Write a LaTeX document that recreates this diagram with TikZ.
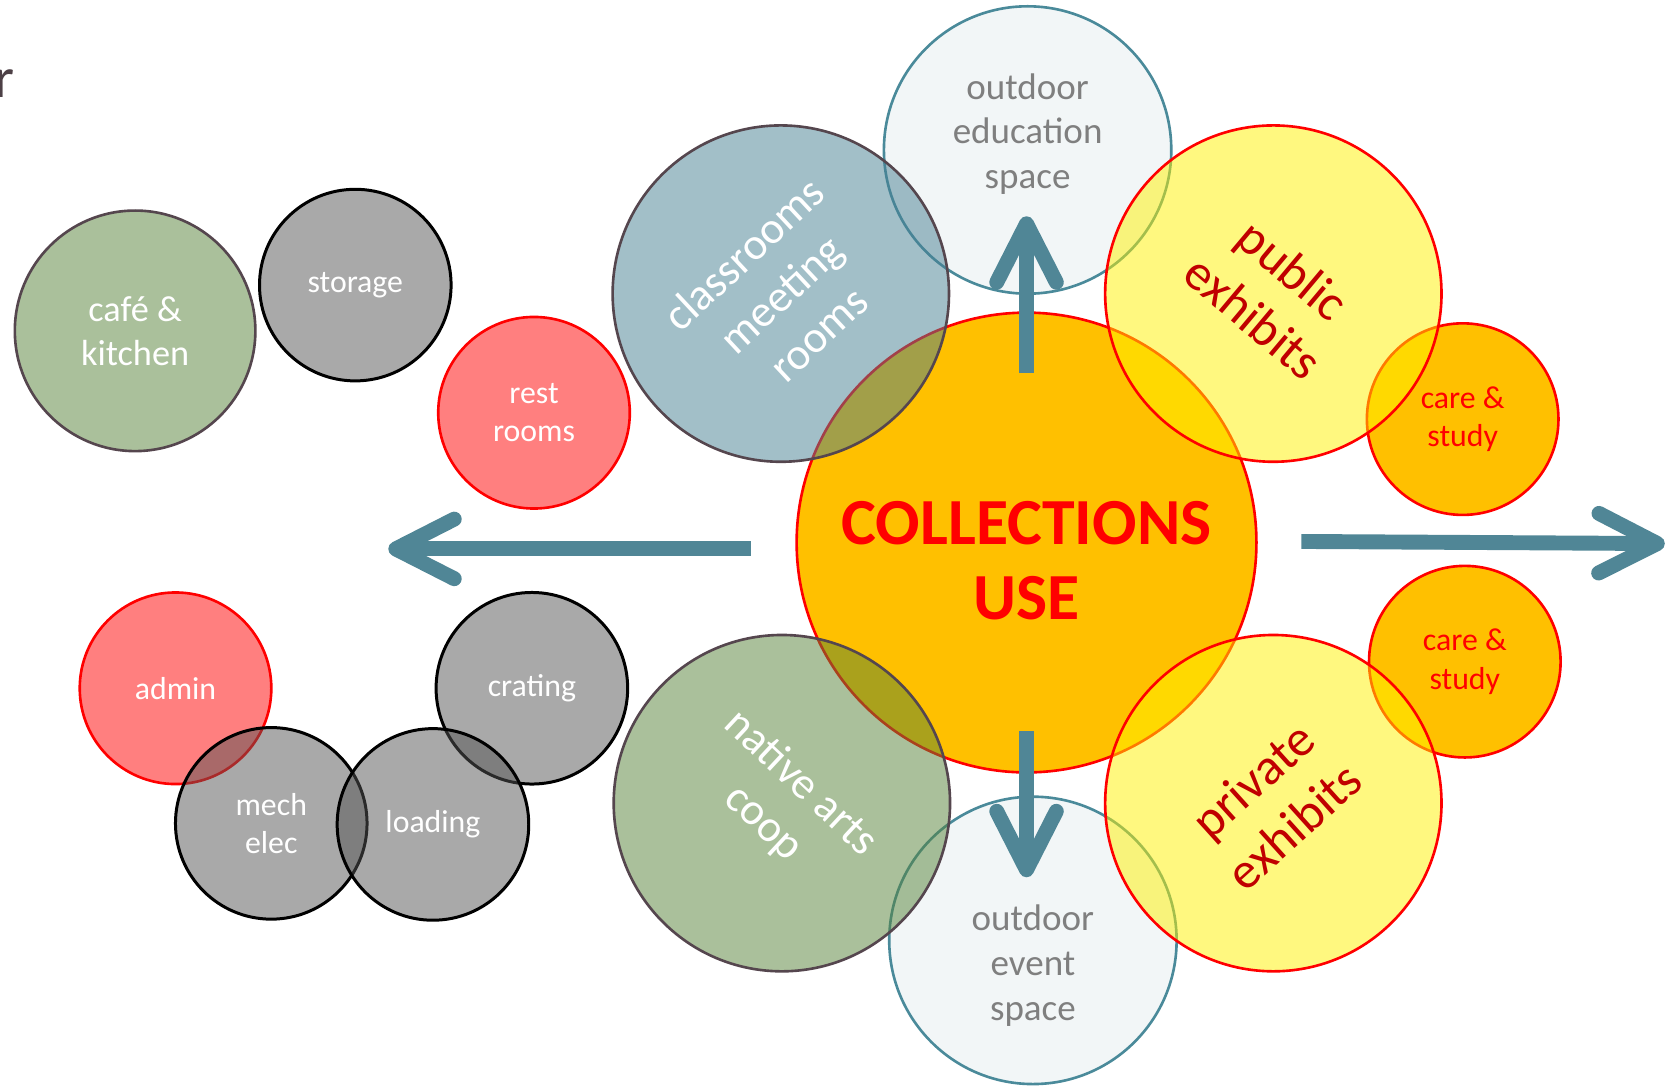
\documentclass[tikz,border=0pt]{standalone}
\usepackage{fontspec}
\setmainfont{Carlito}
\usepackage{tikz}
\usetikzlibrary{arrows.meta}
\usetikzlibrary{calc}
\definecolor{flowteal}{RGB}{80,134,150}
\definecolor{outfill}{RGB}{231,239,241}
\definecolor{outline}{RGB}{74,138,154}
\definecolor{outgray}{RGB}{127,127,127}
\definecolor{darkrim}{RGB}{85,70,78}
\definecolor{classblue}{RGB}{71,128,147}
\definecolor{coopgreen}{RGB}{86,131,57}
\definecolor{hubgold}{RGB}{255,192,0}
\definecolor{exhibitred}{RGB}{192,0,0}
\definecolor{bubblegray}{RGB}{84,84,84}
\definecolor{titlegray}{RGB}{77,64,70}
\tikzstyle{bubble}=[circle,draw,inner sep=0pt,align=center,fill opacity=0.5,text opacity=1,line width=0.7pt]
\tikzstyle{smallbubble}=[bubble,minimum size=1.8cm,text=white,font=\fontsize{8.5}{10.2}\selectfont]
\tikzstyle{cafebubble}=[bubble,minimum size=2.26cm,fill=coopgreen,draw=darkrim,text=white,font=\fontsize{9.7}{11.7}\selectfont]
\tikzstyle{bigbubble}=[bubble,minimum size=3.16cm,draw=darkrim,text=white,font=\fontsize{12}{14.6}\selectfont]
\tikzstyle{exhibit}=[bubble,minimum size=3.16cm,fill=yellow,draw=red,text=exhibitred,font=\fontsize{13.7}{16.5}\selectfont]
\tikzstyle{outbubble}=[bubble,minimum size=2.7cm,fill=outfill,draw=outline]
\tikzstyle{outtext}=[align=center,inner sep=0pt,text=outgray,font=\fontsize{9.9}{12}\selectfont]
\tikzstyle{hub}=[circle,draw=red,fill=hubgold,inner sep=0pt,minimum size=4.32cm,line width=0.7pt]
\tikzstyle{hubtext}=[align=center,inner sep=0pt,text=red,font=\bfseries\fontsize{17.6}{20.2}\selectfont]
\tikzstyle{carebubble}=[circle,draw=red,fill=hubgold,inner sep=0pt,minimum size=1.8cm,line width=0.7pt,align=center,text=red,font=\fontsize{8.5}{10.2}\selectfont]
\tikzstyle{title}=[anchor=base west,inner sep=0pt,text=titlegray,font=\fontsize{15.3}{18}\selectfont]
\tikzstyle{flow} = [draw=flowteal,line width=0.14cm,-{Straight Barb[round,length=0.55cm,width=0.56cm]}]

\begin{document}
\begin{tikzpicture}[x=0.01cm, y=0.01cm]
\useasboundingbox (0,0) rectangle (1568,1023);
\fill[white] (0,0) rectangle (1568,1023);

%title, cut at the edge
    \node[title] (title) at (-6,931) {r};

%outdoor spaces
  \foreach \pos/\name in {{(966,882)/edu}, {(971,139)/event}}
        \node[outbubble] (\name) at \pos {};
    \node[outtext] (edu text) at ($(edu)+(0,15)$) {outdoor\\education\\space};
    \node[outtext] (event text) at ($(event)+(0,-24)$) {outdoor\\event\\space};

%collections
    \node[hub] (col) at (965,513) {};
    \node[hubtext] (col text) at ($(col)+(0,-17)$) {COLLECTIONS\\USE};

  \foreach \pos/\name in {{(1375,629)/care1}, {(1377,401)/care2}}
        \node[carebubble] (\name) at \pos {care \&\\study};

    \node[bigbubble, fill=classblue, rotate=43] (class) at (734,747) {classrooms\\meeting\\rooms};
    \node[bigbubble, fill=coopgreen, rotate=-43] (coop) at (735,268) {native arts\\coop};

    \node[exhibit, rotate=-40] (pub) at (1197,747) {public\\exhibits};
    \node[exhibit, rotate=42] (priv) at (1197,268) {private\\exhibits};

%support spaces
    \node[cafebubble] (cafe) at (127,712) {café \&\\kitchen};
  \foreach \pos/\name/\label in {{(502,635)/rest/{rest\\rooms}}, {(165,376)/admin/admin}}
        \node[smallbubble, fill=red, draw=red] (\name) at \pos {\label};
  \foreach \pos/\name/\label in {{(334,755)/storage/storage}, {(500,376)/crating/crating}, {(255,249)/mech/{mech\\elec}}, {(407,248)/loading/loading}}
        \node[smallbubble, fill=bubblegray, draw=black, line width=0.8pt] (\name) at \pos {\label};

    % flows out of the collections
    \coordinate (west out) at (365,507);
    \coordinate (east out) at (1565,512);
    \draw[flow] ($(col.north)+(0,-58)$) -- ($(col.north |- edu.south)+(0,74)$);
    \draw[flow] ($(col.south)+(0,40)$) -- ($(col.south |- event.north)+(0,-77)$);
    \draw[flow] ($(col.west)+(-42,-6)$) -- (west out);
    \draw[flow] ($(col.east)+(41,1)$) -- (east out);

\end{tikzpicture}
\end{document}
